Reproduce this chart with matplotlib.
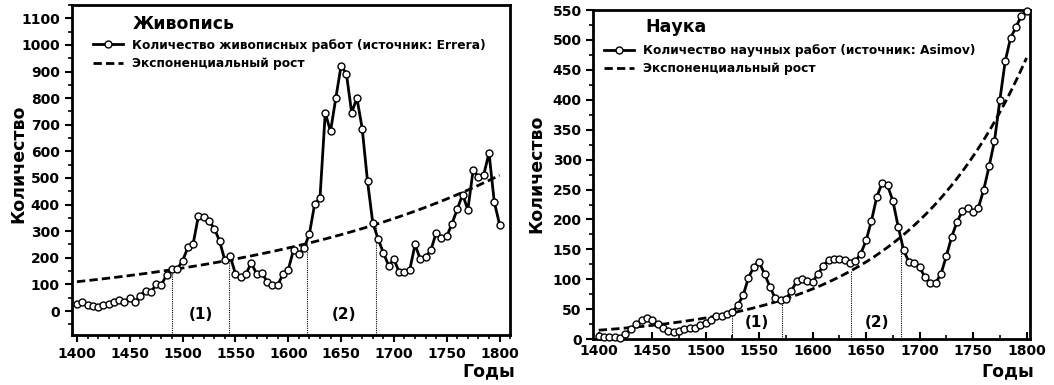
import matplotlib
matplotlib.use("Agg")
import matplotlib.pyplot as plt
from matplotlib.ticker import MultipleLocator
import numpy as np

plt.rcParams['font.family'] = ['DejaVu Sans']
plt.rcParams['font.weight'] = 'bold'

years = list(range(1400, 1801, 5))

painting_counts = [25, 35, 21, 19, 15, 21, 25, 35, 40, 32,
                   48, 34, 58, 76, 70, 101, 99, 137, 158, 158,
                   189, 239, 253, 358, 355, 338, 310, 263, 190, 206,
                   140, 127, 140, 180, 140, 143, 110, 98, 98, 138,
                   155, 230, 213, 236, 290, 402, 423, 745, 675, 800,
                   922, 892, 746, 800, 685, 488, 331, 271, 219, 171,
                   194, 146, 146, 155, 250, 194, 202, 229, 294, 275,
                   281, 328, 384, 437, 381, 530, 504, 512, 594, 410,
                   325]

science_counts = [5, 3, 3, 3, 2, 8, 17, 25, 32, 36,
                  32, 25, 19, 14, 12, 14, 17, 18, 19, 23,
                  27, 32, 38, 38, 42, 45, 57, 73, 103, 121,
                  129, 109, 88, 68, 65, 67, 80, 97, 101, 97,
                  96, 109, 123, 132, 134, 134, 132, 128, 130, 143,
                  165, 198, 238, 261, 257, 231, 188, 149, 129, 127,
                  120, 104, 94, 94, 109, 139, 171, 196, 214, 220,
                  212, 220, 250, 289, 331, 399, 464, 503, 521, 540,
                  548]

# exponential trend end values (read at 1400 and 1800)
painting_exp_ends = (110, 510)
science_exp_ends = (15, 470)

painting_marks = [1490, 1544, 1618, 1683]
science_marks = [1525, 1571, 1636, 1683]

painting_period_labels = [(1517, '(1)'), (1653, '(2)')]
science_period_labels = [(1548, '(1)'), (1660, '(2)')]

titles = ['Живопись', 'Наука']
legend_series = ['Количество живописных работ (источник: Errera)',
                 'Количество научных работ (источник: Asimov)']
legend_exp = 'Экспоненциальный рост'


def expo(ends, t):
    t = np.asarray(t, dtype=float)
    a, b = ends
    return a * (b / a) ** ((t - 1400) / 400.0)


fig = plt.figure(figsize=(10.54, 3.85), dpi=100)
axL = fig.add_axes([0.068, 0.130, 0.416, 0.857])
axR = fig.add_axes([0.563, 0.119, 0.414, 0.855])

t_fine = np.linspace(1400, 1800, 400)


def draw(ax, counts, ends, marks, plabels, ymin, ymax, xmax, title, lab,
         label_y, title_pos, leg_pos, ylab_pos):
    ax.plot(t_fine, expo(ends, t_fine), color='black', lw=2.0,
            linestyle=(0, (3.0, 1.5)), label=legend_exp, zorder=2)
    ax.plot(years, counts, color='black', lw=2.0, marker='o', markersize=5,
            markerfacecolor='white', markeredgecolor='black', markeredgewidth=1.0,
            label=lab, zorder=3, clip_on=False)
    for m in marks:
        ax.plot([m, m], [ymin, float(expo(ends, m))], color='black', lw=0.8,
                linestyle=(0, (1, 1)), zorder=1)
    for x, s in plabels:
        ax.text(x, label_y, s, ha='center', va='center', fontsize=11, fontweight='bold')
    ax.set_xlim(1395, xmax)
    ax.set_ylim(ymin, ymax)
    for sp in ax.spines.values():
        sp.set_linewidth(2.0)
    ax.text(title_pos[0], title_pos[1], title, transform=ax.transAxes,
            fontsize=12.5, fontweight='bold', va='center', ha='left')
    h, l = ax.get_legend_handles_labels()
    leg = ax.legend(h[::-1], l[::-1], loc='upper left',
                    bbox_to_anchor=leg_pos,
                    frameon=False, fontsize=8.85, handlelength=2.4, handletextpad=0.75,
                    labelspacing=0.42, borderaxespad=0, borderpad=0)
    for txt in leg.get_texts():
        txt.set_fontweight('bold')
    ax.set_ylabel('Количество', fontsize=12.5, fontweight='bold')
    ax.yaxis.set_label_coords(*ylab_pos)


draw(axL, painting_counts, painting_exp_ends, painting_marks, painting_period_labels,
     -90, 1150, 1810, titles[0], legend_series[0], -15, (0.14, 0.942), (0.049, 0.898),
     (-0.10, 0.52))
axL.xaxis.set_major_locator(MultipleLocator(50))
axL.xaxis.set_minor_locator(MultipleLocator(10))
axL.yaxis.set_minor_locator(MultipleLocator(50))
axL.set_yticks(list(range(0, 1101, 100)))
axL.tick_params(axis='both', which='major', direction='out', length=5, width=1.5, labelsize=10)
axL.tick_params(axis='both', which='minor', direction='out', length=3, width=1.2)
for lbl in axL.get_xticklabels() + axL.get_yticklabels():
    lbl.set_fontweight('bold')

draw(axR, science_counts, science_exp_ends, science_marks, science_period_labels,
     0, 550, 1803, titles[1], legend_series[1], 28, (0.118, 0.947), (0.025, 0.896),
     (-0.1106, 0.502))
axR.xaxis.set_major_locator(MultipleLocator(50))
axR.xaxis.set_minor_locator(MultipleLocator(25))
axR.yaxis.set_major_locator(MultipleLocator(50))
axR.yaxis.set_minor_locator(MultipleLocator(25))
axR.tick_params(axis='x', which='major', direction='in', length=5, width=1.5, labelsize=10)
axR.tick_params(axis='x', which='minor', direction='in', length=3, width=1.2)
axR.tick_params(axis='y', which='major', direction='out', length=5, width=1.5, labelsize=10)
axR.tick_params(axis='y', which='minor', direction='out', length=3, width=1.2)
for lbl in axR.get_xticklabels() + axR.get_yticklabels():
    lbl.set_fontweight('bold')

fig.text(0.489, 0.035, 'Годы', ha='right', va='center', fontsize=12.5, fontweight='bold')
fig.text(0.981, 0.035, 'Годы', ha='right', va='center', fontsize=12.5, fontweight='bold')

fig.savefig('out.png', dpi=100)
